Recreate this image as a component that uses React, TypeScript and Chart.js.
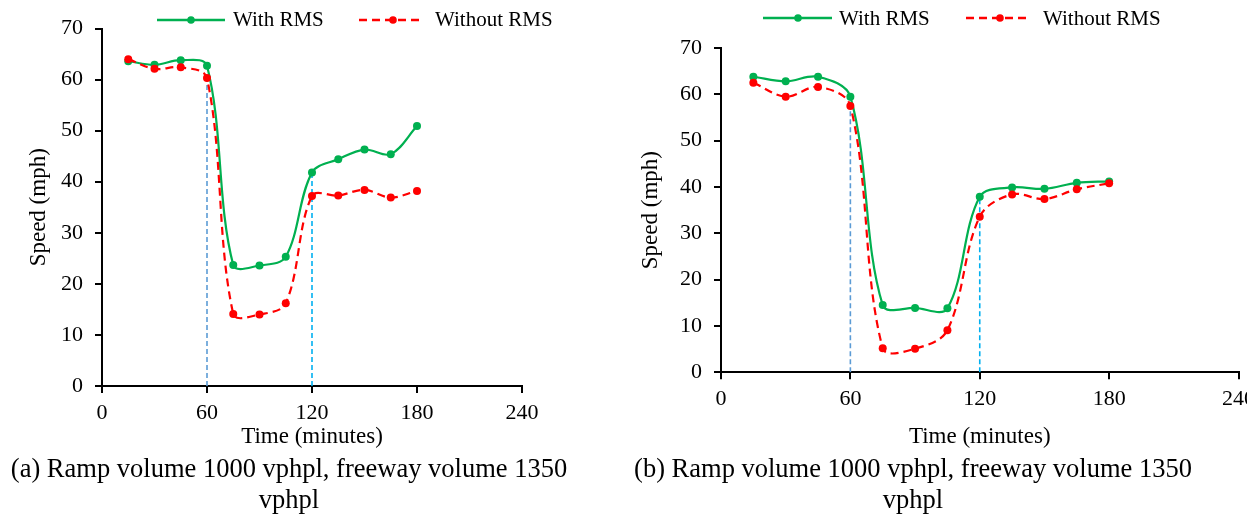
import React, { useEffect, useRef } from 'react';
import { Chart, registerables } from 'chart.js';

Chart.register(...registerables);

const SERIF = "'Liberation Serif', 'Times New Roman', Times, serif";

// ---- data ----
const timeMinutes = [15, 30, 45, 60, 75, 90, 105, 120, 135, 150, 165, 180];
const withRmsA = [63.6, 62.9, 63.8, 62.7, 23.7, 23.6, 25.3, 41.8, 44.4, 46.3, 45.4, 50.9];
const withoutRmsA = [64.0, 62.1, 62.4, 60.3, 14.1, 14.0, 16.2, 37.2, 37.3, 38.4, 36.9, 38.2];
const withRmsB = [63.8, 62.8, 63.8, 59.5, 14.5, 13.9, 13.8, 37.9, 39.9, 39.6, 40.9, 41.2];
const withoutRmsB = [62.5, 59.5, 61.6, 57.5, 5.2, 5.1, 9.1, 33.6, 38.4, 37.4, 39.5, 40.8];
const meteringTimes = [60, 120];
const markerTopsA = [60.3, 41.8];
const markerTopsB = [59.5, 37.9];
const xTickValues = [0, 60, 120, 180, 240];
const yTickValues = [0, 10, 20, 30, 40, 50, 60, 70];
const seriesNames = ['With RMS', 'Without RMS'];
const xTitle = 'Time (minutes)';
const yTitle = 'Speed (mph)';
const captionA = ['(a) Ramp volume 1000 vphpl, freeway volume 1350', 'vphpl'];
const captionB = ['(b) Ramp volume 1000 vphpl, freeway volume 1350', 'vphpl'];

const GREEN = '#00B050';
const RED = '#FF0000';
const BLUE_START = '#5B9BD5';
const BLUE_END = '#00B0F0';

type Frame = {
  left: number;
  width: number;
  height: number;
  areaLeft: number;
  areaTop: number;
  areaRight: number;
  areaBottom: number;
  yTitlePad: number;
};

const frameA: Frame = { left: 0, width: 620, height: 460, areaLeft: 102, areaTop: 28.5, areaRight: 522, areaBottom: 386, yTitlePad: 25 };
const frameB: Frame = { left: 620, width: 660, height: 460, areaLeft: 101, areaTop: 48, areaRight: 618.5, areaBottom: 372.3, yTitlePad: 17 };

function SpeedChart({ frame, withRms, withoutRms, markerTops }: { frame: Frame; withRms: number[]; withoutRms: number[]; markerTops: number[] }) {
  const ref = useRef<HTMLCanvasElement | null>(null);
  useEffect(() => {
    if (!ref.current) return;
    const toPts = (ys: number[]) => timeMinutes.map((t, i) => ({ x: t, y: ys[i] }));
    const markerSets = meteringTimes.map((t, i) => ({
      label: 'marker' + i,
      data: [{ x: t, y: 0 }, { x: t, y: markerTops[i] }],
      borderColor: i === 0 ? BLUE_START : BLUE_END,
      borderWidth: 1.6,
      borderDash: [5, 3],
      pointRadius: 0,
      tension: 0,
      order: 3,
    }));
    const axisGrid = {
      display: true,
      drawOnChartArea: false,
      drawTicks: true,
      tickLength: 7,
      tickColor: '#000',
      tickWidth: 2,
      color: '#000',
      lineWidth: 2,
    };
    const chart = new Chart(ref.current, {
      type: 'line',
      data: {
        datasets: [
          {
            label: seriesNames[0],
            data: toPts(withRms),
            borderColor: GREEN,
            backgroundColor: GREEN,
            pointBackgroundColor: GREEN,
            pointBorderColor: GREEN,
            borderWidth: 2.2,
            pointRadius: 4,
            pointBorderWidth: 0,
            tension: 0.35,
            order: 2,
          },
          {
            label: seriesNames[1],
            data: toPts(withoutRms),
            borderColor: RED,
            backgroundColor: RED,
            pointBackgroundColor: RED,
            pointBorderColor: RED,
            borderWidth: 2.2,
            borderDash: [8, 5],
            pointRadius: 4,
            pointBorderWidth: 0,
            tension: 0.35,
            order: 1,
          },
          ...markerSets,
        ] as any,
      },
      options: {
        animation: false,
        responsive: false,
        devicePixelRatio: 1,
        layout: { padding: { left: 0, top: frame.areaTop, right: frame.width - frame.areaRight, bottom: 0 } },
        plugins: { legend: { display: false }, tooltip: { enabled: false }, title: { display: false } },
        scales: {
          x: {
            type: 'linear',
            min: 0,
            max: 240,
            afterFit: (s: any) => { s.height = frame.height - frame.areaBottom; },
            afterBuildTicks: (s: any) => { s.ticks = xTickValues.map((v) => ({ value: v })); },
            ticks: { color: '#000', font: { family: SERIF, size: 22 }, padding: 7, maxRotation: 0, autoSkip: false },
            grid: axisGrid,
            border: { display: true, color: '#000', width: 2 },
            title: { display: true, text: xTitle, color: '#000', font: { family: SERIF, size: 23 }, padding: { top: 0, bottom: 9 } },
          },
          y: {
            type: 'linear',
            min: 0,
            max: 70,
            afterFit: (s: any) => { s.width = frame.areaLeft; },
            afterBuildTicks: (s: any) => { s.ticks = yTickValues.map((v) => ({ value: v })); },
            ticks: { color: '#000', font: { family: SERIF, size: 22 }, padding: 12, autoSkip: false },
            grid: axisGrid,
            border: { display: true, color: '#000', width: 2 },
            title: { display: true, text: yTitle, color: '#000', font: { family: SERIF, size: 23 }, padding: { top: frame.yTitlePad, bottom: 0 } },
          },
        },
      } as any,
    });
    return () => chart.destroy();
  }, []);
  return (
    <canvas
      ref={ref}
      width={frame.width}
      height={frame.height}
      style={{ position: 'absolute', left: frame.left, top: 0, width: frame.width, height: frame.height }}
    />
  );
}

type LegendPos = { y: number; textTop: number; items: { x1: number; x2: number; dot: number; textX: number }[] };
const legendA: LegendPos = { y: 20, textTop: 7, items: [{ x1: 157, x2: 225, dot: 191, textX: 233 }, { x1: 359, x2: 423, dot: 393, textX: 435 }] };
const legendB: LegendPos = { y: 18, textTop: 5.5, items: [{ x1: 763, x2: 832, dot: 798, textX: 839 }, { x1: 966, x2: 1029, dot: 1000, textX: 1043 }] };

function Legend({ pos }: { pos: LegendPos }) {
  const colors = [GREEN, RED];
  const dashes = [undefined, '8 5'];
  return (
    <>
      {pos.items.map((it, i) => (
        <React.Fragment key={i}>
          <svg
            width={it.x2 - it.x1 + 2}
            height={12}
            style={{ position: 'absolute', left: it.x1 - 1, top: pos.y - 6, overflow: 'visible' }}
          >
            <line x1={1} x2={it.x2 - it.x1 + 1} y1={6} y2={6} stroke={colors[i]} strokeWidth={2.6} strokeDasharray={dashes[i]} />
            <circle cx={it.dot - it.x1 + 1} cy={6} r={3.8} fill={colors[i]} />
          </svg>
          <div
            style={{
              position: 'absolute',
              left: it.textX,
              top: pos.textTop,
              fontFamily: SERIF,
              fontSize: 21,
              lineHeight: '24px',
              color: '#000',
              whiteSpace: 'nowrap',
            }}
          >
            {seriesNames[i]}
          </div>
        </React.Fragment>
      ))}
    </>
  );
}

function Caption({ lines, center }: { lines: string[]; center: number }) {
  return (
    <div
      style={{
        position: 'absolute',
        left: center - 320,
        width: 640,
        top: 453,
        textAlign: 'center',
        fontFamily: SERIF,
        fontSize: 26.5,
        lineHeight: '31px',
        color: '#000',
        whiteSpace: 'nowrap',
      }}
    >
      {lines.map((l, i) => (
        <div key={i}>{l}</div>
      ))}
    </div>
  );
}

export default function App() {
  return (
    <div style={{ position: 'absolute', left: 0, top: 0, width: 1247, height: 519, overflow: 'hidden', background: '#fff' }}>
      <SpeedChart frame={frameA} withRms={withRmsA} withoutRms={withoutRmsA} markerTops={markerTopsA} />
      <SpeedChart frame={frameB} withRms={withRmsB} withoutRms={withoutRmsB} markerTops={markerTopsB} />
      <Legend pos={legendA} />
      <Legend pos={legendB} />
      <Caption lines={captionA} center={289} />
      <Caption lines={captionB} center={913} />
    </div>
  );
}
